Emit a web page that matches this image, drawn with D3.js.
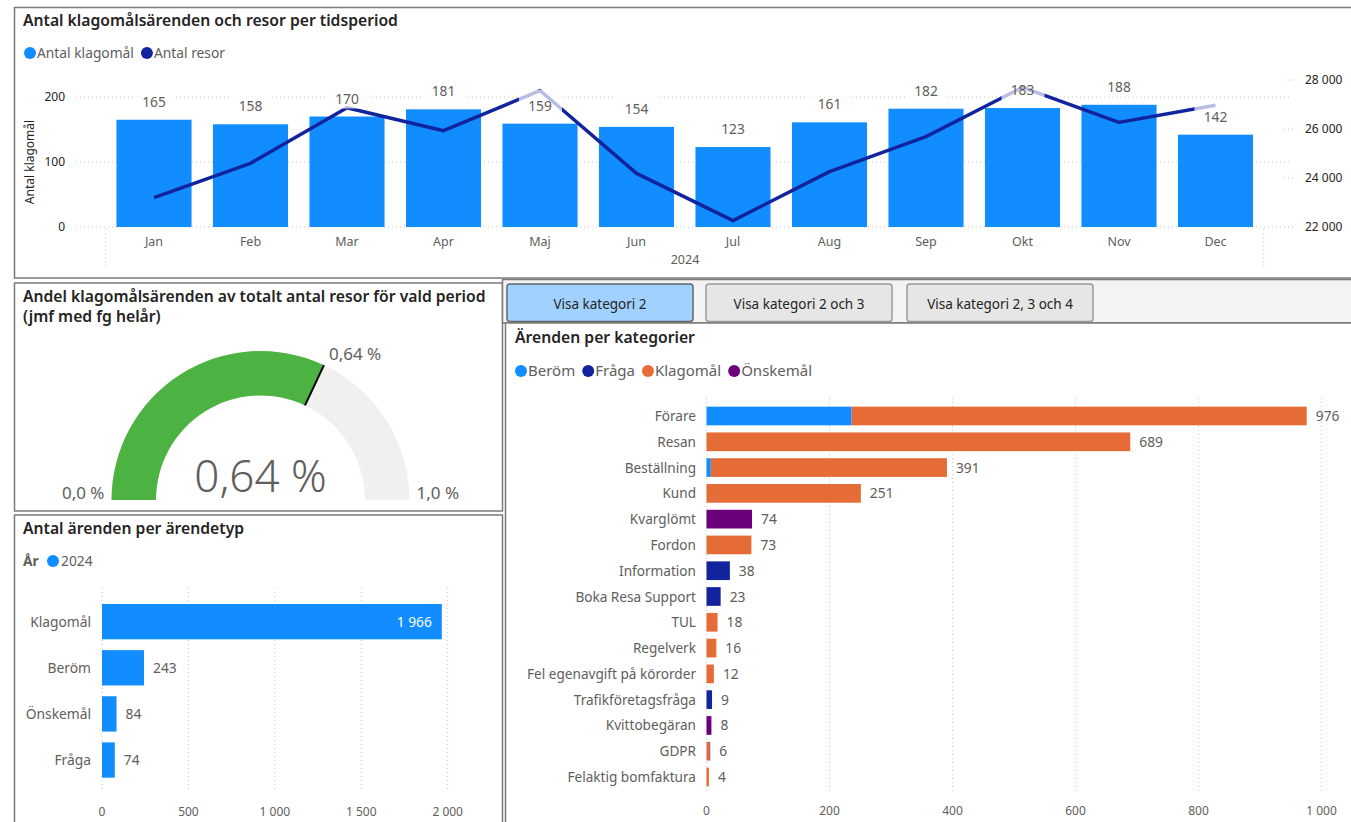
<!DOCTYPE html>
<html>
<head>
<meta charset="utf-8">
<script src="https://cdn.jsdelivr.net/npm/d3@7"></script>
<style>
body { margin: 0; background: #fff; overflow: hidden; }
text { font-family: "Segoe UI", "Noto Sans", sans-serif; }
</style>
</head>
<body>
<div id="dash"></div>
<script>
// Data
var months     = ["Jan", "Feb", "Mar", "Apr", "Maj", "Jun", "Jul", "Aug", "Sep", "Okt", "Nov", "Dec"];
var complaints = [165, 158, 170, 181, 159, 154, 123, 161, 182, 183, 188, 142];
var trips      = [23200, 24600, 26870, 25930, 27570, 24190, 22260, 24260, 25690, 27700, 26270, 26970];
var leftTicks  = [0, 100, 200];
var rightTicks = [22000, 24000, 26000, 28000];

var shareValue  = 0.64;
var shareTarget = 0.64;
var shareRange  = [0, 1];

var caseTypes  = ["Klagomål", "Beröm", "Önskemål", "Fråga"];
var caseCounts = [1966, 243, 84, 74];
var typeTicks  = [0, 500, 1000, 1500, 2000];

var categories = ["Förare", "Resan", "Beställning", "Kund", "Kvarglömt", "Fordon", "Information",
                  "Boka Resa Support", "TUL", "Regelverk", "Fel egenavgift på körorder",
                  "Trafikföretagsfråga", "Kvittobegäran", "GDPR", "Felaktig bomfaktura"];
var seriesNames = ["Beröm", "Fråga", "Klagomål", "Önskemål"];
var berom    = [236, 0,   7,   0,   0,  0,  0,  0,  0,  0,  0,  0, 0, 0, 0];
var fraga    = [0,   0,   0,   0,   0,  0,  38, 23, 0,  0,  0,  9, 0, 0, 0];
var klagomal = [740, 689, 384, 251, 0,  73, 0,  0,  18, 16, 12, 0, 0, 5, 4];
var onskemal = [0,   0,   0,   0,   74, 0,  0,  0,  0,  0,  0,  0, 8, 1, 0];
var catTicks = [0, 200, 400, 600, 800, 1000];

var buttonLabels = ["Visa kategori 2", "Visa kategori 2 och 3", "Visa kategori 2, 3 och 4"];

var W = 1351, H = 822;
var blue = "#118DFF", navy = "#12239E", orange = "#E66C37", purple = "#6B007B";
var seriesColors = [blue, navy, orange, purple];
var labelGray = "#605E5C", dark = "#252423", gridColor = "#C8C6C4";

var sv = d3.formatLocale({decimal: ",", thousands: "\u00a0", grouping: [3], currency: ["", " kr"]});
var fmtInt = sv.format(",d");

var svg = d3.select("#dash").append("svg")
    .attr("width", W)
    .attr("height", H);

function panel(x, y, w, h, fill) {
    svg.append("rect")
        .attr("x", x).attr("y", y)
        .attr("width", w).attr("height", h)
        .attr("fill", fill || "#fff")
        .attr("stroke", "#7a7a7a")
        .attr("stroke-width", 1.5);
}

function title(x, y, lines) {
    var t = svg.append("text")
        .attr("x", x).attr("y", y)
        .attr("font-size", "15.7px")
        .attr("font-weight", 600)
        .attr("fill", dark);
    lines.forEach(function(l, i) {
        t.append("tspan").attr("x", x).attr("dy", i ? 20 : 0).text(l);
    });
}

function legend(x, y, names, colors, size) {
    var cx = x;
    names.forEach(function(n, i) {
        svg.append("circle").attr("cx", cx + 6).attr("cy", y).attr("r", 6).attr("fill", colors[i]);
        var t = svg.append("text")
            .attr("x", cx + 13).attr("y", y + 5)
            .attr("font-size", size)
            .attr("fill", labelGray)
            .text(n);
        cx += 13 + t.node().getComputedTextLength() + 7;
    });
}

// ---------- Top: complaints and trips per month ----------
panel(14.5, 7.5, 1345, 270.5);
title(23, 26, ["Antal klagomålsärenden och resor per tidsperiod"]);
legend(24, 53, ["Antal klagomål", "Antal resor"], [blue, navy], "13.8px");

var x = d3.scaleBand()
    .domain(months)
    .range([105.75, 1263.75])
    .paddingInner(0.222)
    .paddingOuter(0.111);

var yL = d3.scaleLinear().domain([0, 200]).range([227, 97]);
var yR = d3.scaleLinear().domain([22000, 28000]).range([227, 80]);

var topG = svg.append("g");

topG.selectAll(".grid")
    .data(leftTicks)
    .enter().append("line")
    .attr("x1", 76).attr("x2", 1290)
    .attr("y1", d => yL(d)).attr("y2", d => yL(d))
    .attr("stroke", gridColor)
    .attr("stroke-dasharray", "1,3");

topG.selectAll(".rgrid")
    .data(rightTicks)
    .enter().append("line")
    .attr("x1", 1284).attr("x2", 1296)
    .attr("y1", d => yR(d)).attr("y2", d => yR(d))
    .attr("stroke", gridColor)
    .attr("stroke-dasharray", "1,3");

[x.range()[0], x.range()[1]].forEach(function(vx) {
    topG.append("line")
        .attr("x1", vx).attr("x2", vx)
        .attr("y1", 229).attr("y2", 268)
        .attr("stroke", gridColor)
        .attr("stroke-dasharray", "1,3");
});

topG.selectAll(".ltick")
    .data(leftTicks)
    .enter().append("text")
    .attr("x", 65).attr("y", d => yL(d) + 4)
    .attr("text-anchor", "end")
    .attr("font-size", "12px")
    .attr("fill", dark)
    .text(d => fmtInt(d));

topG.selectAll(".rtick")
    .data(rightTicks)
    .enter().append("text")
    .attr("x", 1305).attr("y", d => yR(d) + 4)
    .attr("font-size", "12px")
    .attr("fill", dark)
    .text(d => fmtInt(d));

topG.append("text")
    .attr("transform", "translate(34,162) rotate(-90)")
    .attr("text-anchor", "middle")
    .attr("font-size", "12px")
    .attr("fill", dark)
    .text("Antal klagomål");

topG.selectAll(".bar")
    .data(months)
    .enter().append("rect")
    .attr("x", d => x(d))
    .attr("width", x.bandwidth())
    .attr("y", (d, i) => yL(complaints[i]))
    .attr("height", (d, i) => yL(0) - yL(complaints[i]))
    .attr("fill", blue);

var line = d3.line()
    .x(d => x(d[0]) + x.bandwidth() / 2)
    .y(d => yR(d[1]));

topG.append("path")
    .datum(d3.zip(months, trips))
    .attr("d", line)
    .attr("fill", "none")
    .attr("stroke", navy)
    .attr("stroke-width", 3.5)
    .attr("stroke-linejoin", "round");

// label backgrounds soften the line where it crosses a label
topG.selectAll(".lblbg")
    .data(months)
    .enter().append("rect")
    .attr("x", d => x(d) + x.bandwidth() / 2 - 21)
    .attr("y", (d, i) => yL(complaints[i]) - 34)
    .attr("width", 43)
    .attr("height", 26)
    .attr("fill", "#fff")
    .attr("fill-opacity", 0.7);

topG.selectAll(".lbl")
    .data(months)
    .enter().append("text")
    .attr("x", d => x(d) + x.bandwidth() / 2)
    .attr("y", (d, i) => yL(complaints[i]) - 13)
    .attr("text-anchor", "middle")
    .attr("font-size", "13.8px")
    .attr("fill", labelGray)
    .text((d, i) => complaints[i]);

topG.selectAll(".month")
    .data(months)
    .enter().append("text")
    .attr("x", d => x(d) + x.bandwidth() / 2)
    .attr("y", 246)
    .attr("text-anchor", "middle")
    .attr("font-size", "12.5px")
    .attr("fill", labelGray)
    .text(d => d);

topG.append("text")
    .attr("x", 685).attr("y", 264)
    .attr("text-anchor", "middle")
    .attr("font-size", "12.5px")
    .attr("fill", labelGray)
    .text("2024");

// ---------- Gauge ----------
panel(14.5, 283, 488, 228);
title(23, 302, ["Andel klagomålsärenden av totalt antal resor för vald period", "(jmf med fg helår)"]);

var gx = 260.5, gy = 500, rIn = 104.5, rOut = 149;
var ang = d3.scaleLinear().domain(shareRange).range([-Math.PI / 2, Math.PI / 2]);
var arc = d3.arc().innerRadius(rIn).outerRadius(rOut);
var g = svg.append("g").attr("transform", "translate(" + gx + "," + gy + ")");

g.append("path")
    .attr("d", arc({startAngle: ang(shareRange[0]), endAngle: ang(shareRange[1])}))
    .attr("fill", "#F1F0EF");
g.append("path")
    .attr("d", arc({startAngle: ang(shareRange[0]), endAngle: ang(shareValue)}))
    .attr("fill", "#4CB342");

var ta = ang(shareTarget);
g.append("line")
    .attr("x1", rIn * Math.sin(ta)).attr("y1", -rIn * Math.cos(ta))
    .attr("x2", rOut * Math.sin(ta)).attr("y2", -rOut * Math.cos(ta))
    .attr("stroke", "#000")
    .attr("stroke-width", 2);

var fmtPct2 = sv.format(".2f"), fmtPct1 = sv.format(".1f");
g.append("text")
    .attr("x", rOut * Math.sin(ta) + 5).attr("y", -rOut * Math.cos(ta) - 5)
    .attr("font-size", "17px")
    .attr("fill", labelGray)
    .text(fmtPct2(shareTarget) + " %");
g.append("text")
    .attr("x", -rOut - 7).attr("y", -1)
    .attr("text-anchor", "end")
    .attr("font-size", "17px")
    .attr("fill", labelGray)
    .text(fmtPct1(shareRange[0]) + " %");
g.append("text")
    .attr("x", rOut + 7).attr("y", -1)
    .attr("font-size", "17px")
    .attr("fill", labelGray)
    .text(fmtPct1(shareRange[1]) + " %");
g.append("text")
    .attr("x", 0).attr("y", -8)
    .attr("text-anchor", "middle")
    .attr("font-family", "'Segoe UI Light', Lato, 'Open Sans', sans-serif")
    .attr("font-size", "44px")
    .attr("font-weight", 300)
    .attr("fill", labelGray)
    .text(fmtPct2(shareValue) + " %");

// ---------- Cases per type ----------
panel(14.5, 515, 488, 330);
title(23, 534, ["Antal ärenden per ärendetyp"]);
svg.append("text")
    .attr("x", 23).attr("y", 566)
    .attr("font-size", "13.8px")
    .attr("font-weight", 700)
    .attr("fill", labelGray)
    .text("År");
svg.append("circle").attr("cx", 53).attr("cy", 561).attr("r", 6).attr("fill", blue);
svg.append("text")
    .attr("x", 61).attr("y", 566)
    .attr("font-size", "13.8px")
    .attr("fill", labelGray)
    .text("2024");

var xt = d3.scaleLinear().domain([0, 2000]).range([102, 447.7]);
var yt = d3.scaleBand().domain(caseTypes).range([598.6, 783.1]).paddingInner(0.234).paddingOuter(0.117);

svg.selectAll(".tgrid")
    .data(typeTicks)
    .enter().append("line")
    .attr("x1", d => xt(d)).attr("x2", d => xt(d))
    .attr("y1", 588).attr("y2", 792)
    .attr("stroke", gridColor)
    .attr("stroke-dasharray", "1,3");

svg.selectAll(".ttick")
    .data(typeTicks)
    .enter().append("text")
    .attr("x", d => xt(d)).attr("y", 816)
    .attr("text-anchor", "middle")
    .attr("font-size", "12px")
    .attr("fill", labelGray)
    .text(d => fmtInt(d));

svg.selectAll(".tbar")
    .data(caseTypes)
    .enter().append("rect")
    .attr("x", xt(0))
    .attr("y", d => yt(d))
    .attr("width", (d, i) => xt(caseCounts[i]) - xt(0))
    .attr("height", yt.bandwidth())
    .attr("fill", blue);

svg.selectAll(".tcat")
    .data(caseTypes)
    .enter().append("text")
    .attr("x", 91).attr("y", d => yt(d) + yt.bandwidth() / 2 + 5)
    .attr("text-anchor", "end")
    .attr("font-size", "13.8px")
    .attr("fill", labelGray)
    .text(d => d);

svg.selectAll(".tval")
    .data(caseTypes)
    .enter().append("text")
    .attr("x", (d, i) => caseCounts[i] > 1000 ? xt(caseCounts[i]) - 10 : xt(caseCounts[i]) + 9)
    .attr("y", d => yt(d) + yt.bandwidth() / 2 + 5)
    .attr("text-anchor", (d, i) => caseCounts[i] > 1000 ? "end" : "start")
    .attr("font-size", "13.8px")
    .attr("fill", (d, i) => caseCounts[i] > 1000 ? "#fff" : labelGray)
    .text((d, i) => fmtInt(caseCounts[i]));

// ---------- Buttons ----------
panel(502.5, 279.5, 860, 43.5, "#F3F3F3");
var bx = [507, 706, 907];
buttonLabels.forEach(function(b, i) {
    svg.append("rect")
        .attr("x", bx[i]).attr("y", 284)
        .attr("width", 186).attr("height", 37.5)
        .attr("rx", 3)
        .attr("fill", i === 0 ? "#A0D1FF" : "#E6E6E6")
        .attr("stroke", i === 0 ? "#5f6670" : "#9a9a9a")
        .attr("stroke-width", 1.5);
    svg.append("text")
        .attr("x", bx[i] + 93).attr("y", 309)
        .attr("text-anchor", "middle")
        .attr("font-size", "13.5px")
        .attr("fill", dark)
        .text(b);
});

// ---------- Cases per category ----------
panel(505.5, 323, 860, 520);
title(515, 343, ["Ärenden per kategorier"]);
legend(515, 371, seriesNames, seriesColors, "15px");

var xc = d3.scaleLinear().domain([0, 1000]).range([706.5, 1321.5]);
var yc = d3.scaleBand().domain(categories).range([403.1, 789.9]).paddingInner(0.275).paddingOuter(0.1375);

svg.selectAll(".cgrid")
    .data(catTicks)
    .enter().append("line")
    .attr("x1", d => xc(d)).attr("x2", d => xc(d))
    .attr("y1", 398).attr("y2", 792)
    .attr("stroke", gridColor)
    .attr("stroke-dasharray", "1,3");

svg.selectAll(".ctick")
    .data(catTicks)
    .enter().append("text")
    .attr("x", d => xc(d)).attr("y", 815)
    .attr("text-anchor", "middle")
    .attr("font-size", "12px")
    .attr("fill", labelGray)
    .text(d => fmtInt(d));

var rows = categories.map(function(c, i) {
    return {cat: c, "Beröm": berom[i], "Fråga": fraga[i], "Klagomål": klagomal[i], "Önskemål": onskemal[i]};
});
var stack = d3.stack().keys(seriesNames)(rows);

svg.append("g")
    .selectAll("g")
    .data(stack)
    .enter().append("g")
    .attr("fill", (d, i) => seriesColors[i])
    .selectAll("rect")
    .data(d => d.filter(p => p[1] > p[0]))
    .enter().append("rect")
    .attr("x", d => xc(d[0]))
    .attr("y", d => yc(d.data.cat))
    .attr("width", d => xc(d[1]) - xc(d[0]))
    .attr("height", yc.bandwidth());

svg.selectAll(".ccat")
    .data(categories)
    .enter().append("text")
    .attr("x", 696).attr("y", d => yc(d) + yc.bandwidth() / 2 + 5)
    .attr("text-anchor", "end")
    .attr("font-size", "13.6px")
    .attr("fill", labelGray)
    .text(d => d);

svg.selectAll(".cval")
    .data(rows)
    .enter().append("text")
    .attr("x", d => xc(d["Beröm"] + d["Fråga"] + d["Klagomål"] + d["Önskemål"]) + 9)
    .attr("y", d => yc(d.cat) + yc.bandwidth() / 2 + 5)
    .attr("font-size", "13.8px")
    .attr("fill", labelGray)
    .text(d => fmtInt(d["Beröm"] + d["Fråga"] + d["Klagomål"] + d["Önskemål"]));
</script>
</body>
</html>
